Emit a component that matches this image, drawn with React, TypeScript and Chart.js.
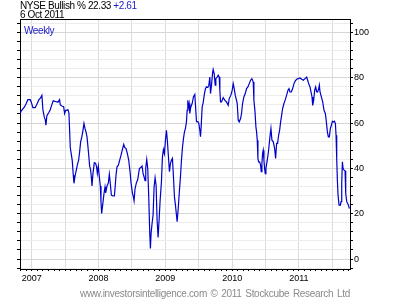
import React, { useEffect, useRef } from "react";
import { Chart, registerables } from "chart.js";

Chart.register(...registerables);

const TITLE = "NYSE Bullish %";
const LAST_VALUE = "22.33";
const CHANGE = "+2.61";
const DATE_LABEL = "6 Oct 2011";
const PERIOD = "Weekly";
const FOOTER = "www.investorsintelligence.com \u00a9 2011 Stockcube Research Ltd";

const X_MIN = 2006.823;
const X_MAX = 2011.765;
const Y_MIN = -4.4;
const Y_MAX = 105.9;
const Y_TICKS = [-4, 0, 4, 8, 12, 16, 20, 24, 28, 32, 36, 40, 44, 48, 52, 56, 60, 64, 68, 72, 76, 80, 84, 88, 92, 96, 100, 104];
const Y_LABELED = [0, 20, 40, 60, 80, 100];
const YEARS = [2006, 2007, 2008, 2009, 2010, 2011];

// decimal-year dates of the weekly readings
const dates = [
  2006.826, 2006.840, 2006.890, 2006.916, 2006.941, 2006.976, 2006.991, 2007.016, 2007.051, 2007.076,
  2007.106, 2007.131, 2007.151, 2007.166, 2007.186, 2007.201, 2007.211, 2007.226, 2007.251, 2007.276,
  2007.296, 2007.321, 2007.356, 2007.391, 2007.416, 2007.426, 2007.456, 2007.476, 2007.491, 2007.506,
  2007.526, 2007.541, 2007.556, 2007.566, 2007.576, 2007.591, 2007.606, 2007.621, 2007.631, 2007.646,
  2007.666, 2007.681, 2007.701, 2007.716, 2007.731, 2007.751, 2007.766, 2007.781, 2007.796, 2007.811,
  2007.826, 2007.836, 2007.851, 2007.866, 2007.881, 2007.891, 2007.901, 2007.916, 2007.936, 2007.956,
  2007.971, 2007.981, 2007.996, 2008.011, 2008.026, 2008.036, 2008.046, 2008.061, 2008.081, 2008.096,
  2008.106, 2008.126, 2008.146, 2008.161, 2008.176, 2008.191, 2008.216, 2008.236, 2008.246, 2008.261,
  2008.276, 2008.296, 2008.316, 2008.336, 2008.356, 2008.376, 2008.391, 2008.411, 2008.431, 2008.451,
  2008.471, 2008.486, 2008.506, 2008.521, 2008.531, 2008.546, 2008.566, 2008.586, 2008.611, 2008.631,
  2008.651, 2008.666, 2008.681, 2008.696, 2008.706, 2008.721, 2008.736, 2008.751, 2008.766, 2008.776,
  2008.786, 2008.801, 2008.816, 2008.831, 2008.846, 2008.861, 2008.876, 2008.891, 2008.906, 2008.921,
  2008.941, 2008.956, 2008.971, 2008.986, 2009.001, 2009.016, 2009.031, 2009.046, 2009.061, 2009.076,
  2009.091, 2009.106, 2009.121, 2009.136, 2009.151, 2009.166, 2009.176, 2009.191, 2009.211, 2009.226,
  2009.241, 2009.256, 2009.271, 2009.286, 2009.301, 2009.316, 2009.326, 2009.336, 2009.346, 2009.356,
  2009.366, 2009.381, 2009.401, 2009.421, 2009.441, 2009.451, 2009.466, 2009.486, 2009.501, 2009.516,
  2009.526, 2009.536, 2009.551, 2009.566, 2009.586, 2009.601, 2009.616, 2009.636, 2009.651, 2009.666,
  2009.676, 2009.691, 2009.706, 2009.716, 2009.731, 2009.746, 2009.756, 2009.776, 2009.791, 2009.806,
  2009.816, 2009.826, 2009.841, 2009.866, 2009.891, 2009.916, 2009.941, 2009.956, 2009.981, 2010.001,
  2010.016, 2010.031, 2010.046, 2010.066, 2010.076, 2010.091, 2010.106, 2010.126, 2010.141, 2010.156,
  2010.176, 2010.196, 2010.216, 2010.236, 2010.256, 2010.276, 2010.296, 2010.316, 2010.326, 2010.341,
  2010.356, 2010.366, 2010.376, 2010.386, 2010.396, 2010.411, 2010.426, 2010.436, 2010.446, 2010.456,
  2010.466, 2010.476, 2010.486, 2010.496, 2010.506, 2010.526, 2010.546, 2010.566, 2010.581, 2010.596,
  2010.616, 2010.636, 2010.651, 2010.666, 2010.681, 2010.696, 2010.711, 2010.726, 2010.741, 2010.756,
  2010.776, 2010.796, 2010.816, 2010.836, 2010.851, 2010.866, 2010.886, 2010.906, 2010.926, 2010.946,
  2010.966, 2010.991, 2011.016, 2011.041, 2011.066, 2011.091, 2011.116, 2011.131, 2011.146, 2011.166,
  2011.181, 2011.196, 2011.206, 2011.221, 2011.236, 2011.251, 2011.266, 2011.281, 2011.296, 2011.306,
  2011.316, 2011.336, 2011.356, 2011.376, 2011.396, 2011.411, 2011.426, 2011.441, 2011.456, 2011.471,
  2011.486, 2011.501, 2011.516, 2011.531, 2011.546, 2011.556, 2011.566, 2011.576, 2011.586, 2011.601,
  2011.621, 2011.631, 2011.641, 2011.651, 2011.661, 2011.676, 2011.691, 2011.701, 2011.716, 2011.736,
  2011.756,
];

// NYSE Bullish % readings
const bullish = [
  64.2, 65.3, 67.1, 68.6, 70.3, 70.3, 69.3, 66.8, 66.8, 68.3,
  70.3, 71.1, 72.2, 65.9, 62.7, 61.5, 59.0, 63.3, 64.4, 65.9,
  67.8, 69.8, 69.5, 69.2, 70.3, 68.0, 67.4, 67.3, 64.2, 65.6,
  65.6, 65.9, 64.4, 56.8, 49.2, 46.3, 43.3, 37.0, 33.4, 36.3,
  39.2, 41.4, 43.6, 47.3, 51.7, 54.2, 56.8, 59.8, 57.6, 56.1,
  54.0, 51.0, 46.2, 41.0, 39.2, 36.3, 32.2, 37.8, 42.5, 42.2,
  40.4, 37.8, 41.0, 36.3, 32.2, 25.2, 20.1, 23.8, 28.9, 31.8,
  29.2, 32.2, 33.6, 37.4, 33.1, 28.2, 27.8, 27.8, 31.1, 37.0,
  40.7, 41.4, 43.6, 45.8, 48.3, 50.6, 49.2, 48.7, 46.5, 43.6,
  38.5, 33.6, 29.2, 27.4, 25.7, 31.1, 33.6, 35.1, 39.9, 40.4,
  41.0, 37.8, 36.3, 34.6, 40.2, 43.9, 39.9, 27.4, 11.6, 4.7,
  11.3, 15.7, 19.4, 31.8, 35.9, 32.6, 17.2, 9.5, 17.2, 25.6,
  34.1, 45.1, 48.3, 46.5, 52.4, 56.8, 51.7, 45.1, 38.5, 42.2,
  43.6, 44.4, 36.3, 27.4, 23.8, 19.4, 16.5, 21.6, 30.4, 36.3,
  43.6, 49.2, 53.1, 56.1, 57.6, 60.6, 65.6, 70.0, 67.1, 68.6,
  64.2, 67.1, 68.6, 71.6, 72.6, 67.8, 60.6, 60.6, 59.8, 56.8,
  54.0, 58.4, 67.1, 68.9, 73.1, 75.2, 76.0, 75.7, 76.7, 80.3,
  73.0, 76.7, 81.8, 83.6, 81.8, 76.7, 79.6, 80.3, 81.1, 80.3,
  74.5, 69.3, 69.3, 71.2, 70.0, 69.3, 67.8, 70.8, 72.3, 74.5,
  77.4, 75.2, 72.3, 70.0, 68.6, 61.2, 60.5, 62.0, 64.2, 68.6,
  71.5, 73.0, 75.2, 75.9, 77.4, 78.9, 79.6, 78.1, 70.0, 65.6,
  58.3, 56.1, 52.4, 44.4, 42.9, 42.9, 41.4, 38.5, 42.2, 46.6,
  48.0, 43.6, 40.0, 37.7, 40.0, 43.6, 48.0, 53.9, 57.6, 52.4,
  51.7, 48.8, 44.4, 51.0, 51.0, 54.6, 56.8, 60.5, 63.4, 66.4,
  68.6, 70.3, 72.3, 74.5, 75.2, 73.7, 73.7, 75.2, 77.4, 78.6,
  79.3, 79.6, 79.9, 79.3, 78.9, 79.6, 80.3, 78.9, 77.4, 75.9,
  73.7, 71.5, 67.8, 70.0, 74.5, 75.9, 73.7, 73.7, 75.2, 76.7,
  73.7, 71.5, 69.3, 65.6, 64.2, 60.5, 56.1, 53.9, 53.9, 57.6,
  59.0, 60.8, 60.5, 60.8, 59.8, 54.6, 44.4, 34.8, 28.2, 23.8,
  23.8, 25.3, 33.3, 42.9, 40.0, 39.2, 38.9, 28.9, 25.3, 24.2,
  22.3,
];

const FONT = "'Liberation Sans', Arial, sans-serif";
const LINE_BLUE = "#0000cc";
const TEXT_BLUE = "#1a1acc";

const monthTicks: number[] = [];
YEARS.forEach((yr) => {
  for (let m = 0; m < 12; m++) {
    const v = yr + m / 12;
    if (v >= X_MIN && v <= X_MAX) monthTicks.push(v);
  }
});
const monthOf = (v: number) => {
  const yr = Math.floor(v + 1e-6);
  return Math.round((v - yr) * 12) % 12;
};

const framePlugin = {
  id: "frameTop",
  afterDraw(chart: any) {
    const { ctx, chartArea } = chart;
    ctx.save();
    ctx.strokeStyle = "#000";
    ctx.lineWidth = 1;
    ctx.beginPath();
    ctx.moveTo(chartArea.left, Math.round(chartArea.top) + 0.5);
    ctx.lineTo(chartArea.right + 1, Math.round(chartArea.top) + 0.5);
    ctx.stroke();
    ctx.restore();
  },
};

export default function App() {
  const ref = useRef<HTMLCanvasElement>(null);

  useEffect(() => {
    const canvas = ref.current;
    if (!canvas) return;
    const points = dates.map((d, i) => ({ x: d, y: bullish[i] }));
    const chart = new Chart(canvas, {
      type: "line",
      data: {
        datasets: [
          {
            data: points,
            borderColor: LINE_BLUE,
            borderWidth: 1.2,
            pointRadius: 0,
            tension: 0,
            fill: false,
            yAxisID: "y",
            xAxisID: "x",
          },
        ],
      },
      options: {
        responsive: false,
        animation: false,
        events: [],
        layout: { padding: { top: 19, left: 0, right: 0, bottom: 0 } },
        plugins: { legend: { display: false }, tooltip: { enabled: false }, title: { display: false } },
        scales: {
          x: {
            type: "linear",
            position: "bottom",
            min: X_MIN,
            max: X_MAX,
            afterBuildTicks: (s: any) => {
              s.ticks = monthTicks.map((v) => ({ value: v }));
            },
            afterFit: (s: any) => {
              s.height = 31;
            },
            grid: {
              color: (c: any) => (c.tick && monthOf(c.tick.value) % 6 === 0 ? "#dcdcdc" : "rgba(0,0,0,0)"),
              tickColor: "#000",
              tickLength: 2,
              lineWidth: 1,
            },
            border: { color: "#000", width: 1 },
            ticks: {
              autoSkip: false,
              maxRotation: 0,
              minRotation: 0,
              padding: 2,
              color: "#000",
              font: { family: FONT, size: 9 },
              callback: (v: any) => (monthOf(Number(v)) === 0 ? String(Math.round(Number(v))) : ""),
            },
          },
          y: {
            type: "linear",
            position: "right",
            min: Y_MIN,
            max: Y_MAX,
            afterBuildTicks: (s: any) => {
              s.ticks = Y_TICKS.map((v) => ({ value: v }));
            },
            afterFit: (s: any) => {
              s.width = 50;
            },
            grid: {
              color: (c: any) => (c.tick && c.tick.value % 20 === 0 ? "#d6d6d6" : "#ececec"),
              tickColor: "#000",
              tickLength: 3,
              lineWidth: 1,
            },
            border: { color: "#000", width: 1 },
            ticks: {
              autoSkip: false,
              padding: 1,
              color: "#000",
              font: { family: FONT, size: 9 },
              callback: (v: any) => (Y_LABELED.includes(Number(v)) ? String(v) : ""),
            },
          },
          yL: {
            type: "linear",
            position: "left",
            min: Y_MIN,
            max: Y_MAX,
            afterBuildTicks: (s: any) => {
              s.ticks = Y_TICKS.map((v) => ({ value: v }));
            },
            afterFit: (s: any) => {
              s.width = 20;
            },
            grid: { drawOnChartArea: false, tickColor: "#000", tickLength: 3 },
            border: { color: "#000", width: 1 },
            ticks: { autoSkip: false, padding: 0, font: { family: FONT, size: 9 }, callback: () => "" },
          },
        },
      },
      plugins: [framePlugin],
    } as any);
    return () => chart.destroy();
  }, []);

  const txt: React.CSSProperties = {
    position: "absolute",
    fontFamily: FONT,
    fontSize: 10,
    lineHeight: "10px",
    letterSpacing: "-0.4px",
    whiteSpace: "pre",
  };

  return (
    <div style={{ position: "absolute", left: 0, top: 0, width: 400, height: 300, background: "#fff" }}>
      <canvas ref={ref} width={400} height={300} style={{ display: "block", width: 400, height: 300 }} />
      <div style={{ ...txt, left: 20, top: 1, color: "#000" }}>
        {TITLE} {LAST_VALUE} <span style={{ color: TEXT_BLUE }}>{CHANGE}</span>
      </div>
      <div style={{ ...txt, left: 20, top: 9.5, color: "#000" }}>{DATE_LABEL}</div>
      <div style={{ ...txt, left: 24, top: 25.5, color: TEXT_BLUE }}>{PERIOD}</div>
      <div
        style={{
          ...txt,
          left: 80,
          top: 288.5,
          width: 270,
          color: "#8a8a8a",
          letterSpacing: "-0.3px",
          whiteSpace: "normal",
          textAlign: "justify",
          textAlignLast: "justify",
        }}
      >
        {FOOTER}
      </div>
    </div>
  );
}
